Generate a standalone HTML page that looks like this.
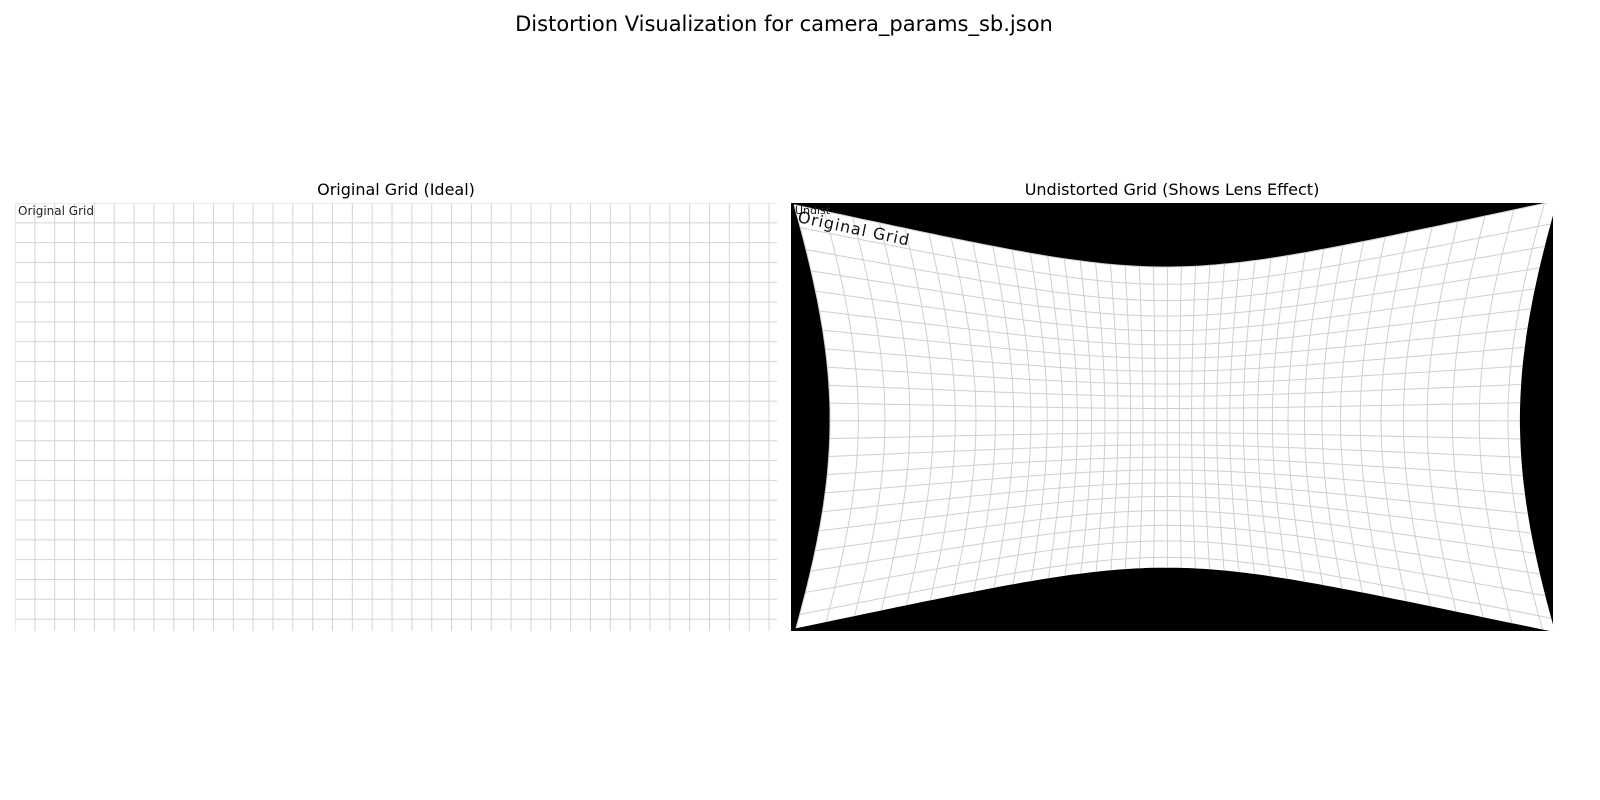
<!DOCTYPE html>
<html><head><meta charset="utf-8"><style>
html,body{margin:0;padding:0;background:#fff;}
svg{display:block;font-family:"DejaVu Sans","Liberation Sans",sans-serif;}
</style></head><body>
<svg id="s" width="1600" height="800" viewBox="0 0 1600 800">
<text x="784" y="31" font-size="21" text-anchor="middle" fill="#000">Distortion Visualization for camera_params_sb.json</text>
<text x="396" y="195" font-size="16" text-anchor="middle" fill="#000">Original Grid (Ideal)</text>
<text x="1172" y="195" font-size="16" text-anchor="middle" fill="#000">Undistorted Grid (Shows Lens Effect)</text>
<defs>
<clipPath id="cl"><rect x="15" y="203" width="762" height="428"/></clipPath>
<clipPath id="cr"><rect x="791" y="203" width="762" height="428"/></clipPath>
</defs>
<g id="left" clip-path="url(#cl)"></g>
<rect x="791" y="203" width="762" height="428" fill="#000"/>
<g id="right" clip-path="url(#cr)"></g>
</svg>
<script>
// image grid data (source image pixels)
const imageWidth = 1920;
const imageHeight = 1080;
const gridStep = 50;
// radial distortion coefficients (display scale)
const distortA = [0.609];
const distortB = [2.04e-6];
const NS = 'http://www.w3.org/2000/svg';
const L = {x:15, y:203, w:762, h:428};
const R = {x:791, y:203, w:762, h:428, cx:1166, cy:420};
const sx = L.w / imageWidth, sy = L.h / imageHeight;
function mk(tag, attrs, parent){const e=document.createElementNS(NS,tag);for(const k in attrs)e.setAttribute(k,attrs[k]);parent.appendChild(e);return e;}
const left=document.getElementById('left'), right=document.getElementById('right');
// left panel
const lb=mk('rect',{x:L.x,y:L.y,width:L.w,height:L.h,fill:'#fff'},left);


for(let gx=0; gx<=imageWidth; gx+=gridStep){
  const x=L.x+gx*sx;
  const l=mk('line',{x1:x,y1:L.y,x2:x,y2:L.y+L.h,stroke:'#d4d4d4','stroke-width':1},left);
  
  
}
for(let gy=0; gy<=imageHeight; gy+=gridStep){
  const y=L.y+gy*sy;
  const l=mk('line',{x1:L.x,y1:y,x2:L.x+L.w,y2:y,stroke:'#d4d4d4','stroke-width':1},left);
  
  
}
const lt=mk('text',{x:18,y:215,'font-size':12,fill:'#222'},left);
lt.textContent='Original Grid';


// right panel mapping
function map(gx,gy){
  const px=R.x+gx*sx-R.cx, py=R.y+gy*sy-R.cy;
  const r2=px*px+py*py, f=distortA[0]+distortB[0]*r2;
  return [R.cx+px*f, R.cy+py*f];
}
function path(pts){return pts.map((p,i)=>(i?'L':'M')+p[0].toFixed(1)+' '+p[1].toFixed(1)).join('');}
const bnd=[];
for(let gx=0;gx<=imageWidth;gx+=20)bnd.push(map(gx,0));
for(let gy=0;gy<=imageHeight;gy+=20)bnd.push(map(imageWidth,gy));
for(let gx=imageWidth;gx>=0;gx-=20)bnd.push(map(gx,imageHeight));
for(let gy=imageHeight;gy>=0;gy-=20)bnd.push(map(0,gy));
const wb=mk('path',{d:path(bnd)+'Z',fill:'#fff'},right);


for(let gx=0; gx<=imageWidth; gx+=gridStep){
  const pts=[];for(let gy=0;gy<=imageHeight;gy+=20)pts.push(map(gx,gy));
  const p=mk('path',{d:path(pts),fill:'none',stroke:'#cfcfcf','stroke-width':1},right);
  
  
}
for(let gy=0; gy<=imageHeight; gy+=gridStep){
  const pts=[];for(let gx=0;gx<=imageWidth;gx+=20)pts.push(map(gx,gy));
  const p=mk('path',{d:path(pts),fill:'none',stroke:'#cfcfcf','stroke-width':1},right);
  
  
}
const ut=mk('text',{x:795,y:214,'font-size':11,fill:'#222'},right);
ut.textContent='Undist';


const rt=mk('text',{x:797,y:222,'font-size':16,fill:'#111',transform:'rotate(12 797 222)','letter-spacing':'1'},right);
rt.textContent='Original  Grid';


</script>
</body></html>
